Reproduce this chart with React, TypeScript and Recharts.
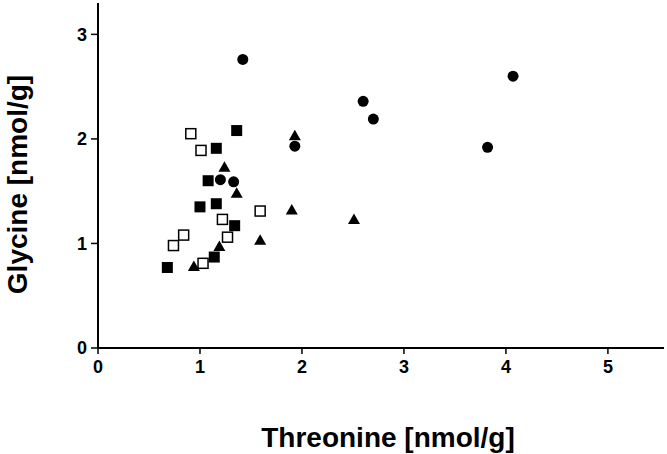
import { ScatterChart, Scatter, XAxis, YAxis, Label } from 'recharts';

// threonine (x) / glycine (y) pairs per group
const openSquareX = [0.91, 1.01, 1.59, 1.22, 0.84, 1.27, 0.74, 1.03];
const openSquareY = [2.05, 1.89, 1.31, 1.23, 1.08, 1.06, 0.98, 0.81];

const filledSquareX = [1.36, 1.16, 1.08, 1.0, 1.16, 1.34, 1.14, 0.68];
const filledSquareY = [2.08, 1.91, 1.6, 1.35, 1.38, 1.17, 0.87, 0.77];

const triangleX = [1.93, 1.24, 1.36, 1.9, 1.59, 1.19, 0.94, 2.51];
const triangleY = [2.03, 1.73, 1.48, 1.32, 1.03, 0.97, 0.78, 1.23];

const circleX = [1.42, 2.6, 2.7, 3.82, 4.07, 1.93, 1.2, 1.33];
const circleY = [2.76, 2.36, 2.19, 1.92, 2.6, 1.93, 1.61, 1.59];

const xTicks = [0, 1, 2, 3, 4, 5];
const yTicks = [0, 1, 2, 3];

const font = '"Liberation Sans", Arial, sans-serif';

function pairs(xs: number[], ys: number[]) {
  return xs.map((x, i) => ({ x, y: ys[i] }));
}

const OpenSquare = (p: any) => (
  <rect x={p.cx - 5} y={p.cy - 5} width={10} height={10} fill="#fff" stroke="#000" strokeWidth={1.5} />
);
const FilledSquare = (p: any) => (
  <rect x={p.cx - 5.5} y={p.cy - 5.5} width={11} height={11} fill="#000" />
);
const Triangle = (p: any) => (
  <path d={`M${p.cx},${p.cy - 6} L${p.cx + 6},${p.cy + 4.5} L${p.cx - 6},${p.cy + 4.5} Z`} fill="#000" />
);
const Circle = (p: any) => <circle cx={p.cx} cy={p.cy} r={5.5} fill="#000" />;

const titleStyle = { fontSize: 28, fontWeight: 'bold', fill: '#000', fontFamily: font } as const;

const XTitle = ({ viewBox }: any) => (
  <text x={viewBox.x + viewBox.width / 2 + 7} y={viewBox.y + viewBox.height - 7} textAnchor="middle" style={titleStyle}>
    Threonine [nmol/g]
  </text>
);

const YTitle = ({ viewBox }: any) => {
  const x = viewBox.x + 27;
  const y = viewBox.y + viewBox.height / 2 + 9;
  return (
    <text x={x} y={y} textAnchor="middle" transform={`rotate(-90, ${x}, ${y})`} style={titleStyle}>
      Glycine [nmol/g]
    </text>
  );
};

export default function App() {
  const tickStyle = { fontSize: 18, fontWeight: 'bold', fill: '#000', fontFamily: font };
  return (
    <div style={{ position: 'absolute', left: 0, top: 0, background: '#fff' }}>
      <ScatterChart width={667} height={454} margin={{ top: 3, right: 3, bottom: 0, left: 0 }}>
        <XAxis
          type="number"
          dataKey="x"
          domain={[0, 5.55]}
          ticks={xTicks}
          allowDataOverflow
          height={106}
          axisLine={{ stroke: '#000', strokeWidth: 2 }}
          tickLine={{ stroke: '#000', strokeWidth: 1.5 }}
          tickSize={6}
          tickMargin={6}
          tick={tickStyle}
        >
          <Label content={XTitle} />
        </XAxis>
        <YAxis
          type="number"
          dataKey="y"
          domain={[0, 3.3]}
          ticks={yTicks}
          allowDataOverflow
          width={98}
          axisLine={{ stroke: '#000', strokeWidth: 2 }}
          tickLine={{ stroke: '#000', strokeWidth: 1.5 }}
          tickSize={7}
          tickMargin={4}
          tick={tickStyle}
        >
          <Label content={YTitle} />
        </YAxis>
        <Scatter data={pairs(openSquareX, openSquareY)} shape={OpenSquare} isAnimationActive={false} />
        <Scatter data={pairs(filledSquareX, filledSquareY)} shape={FilledSquare} isAnimationActive={false} />
        <Scatter data={pairs(triangleX, triangleY)} shape={Triangle} isAnimationActive={false} />
        <Scatter data={pairs(circleX, circleY)} shape={Circle} isAnimationActive={false} />
      </ScatterChart>
    </div>
  );
}
